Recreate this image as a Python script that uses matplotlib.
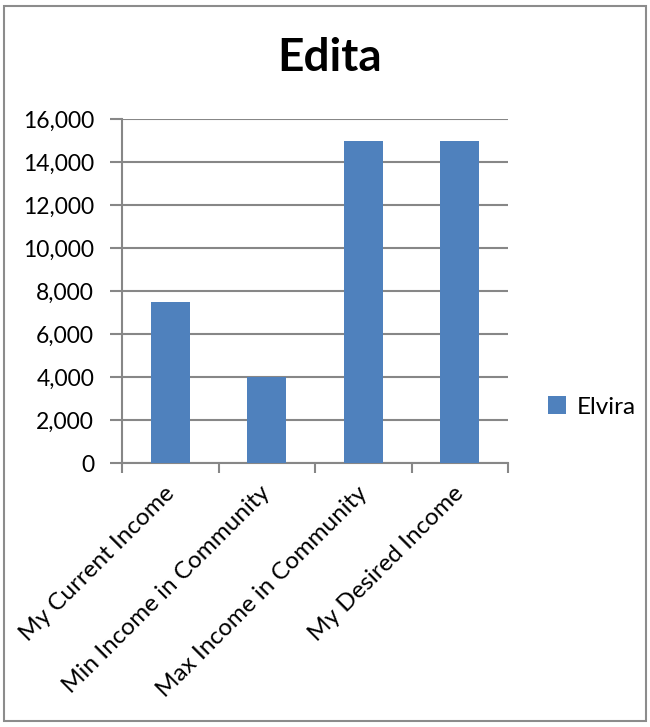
import matplotlib
matplotlib.use("Agg")
import matplotlib.pyplot as plt
from matplotlib.patches import Rectangle
from matplotlib.transforms import ScaledTranslation
from matplotlib.ticker import FuncFormatter, MultipleLocator, FixedLocator

categories = ["My Current Income", "Min Income in Community",
              "Max Income in Community", "My Desired Income"]
values = [7500, 4000, 15000, 15000]
series_name = "Elvira"
title = "Edita"

plt.rcParams['font.family'] = ['Lato', 'DejaVu Sans']

W, H = 650, 727
fig = plt.figure(figsize=(W / 100, H / 100), dpi=100)

# outer chart border
fig.patches.append(Rectangle((4 / W, 1 - 721 / H), 642 / W, 715 / H,
                             transform=fig.transFigure, fill=False,
                             edgecolor="#8c8c8c", linewidth=1.5))

ax = fig.add_axes([122 / W, 1 - 463 / H, 386 / W, 344 / H])
grid_c = "#878787"
x = range(len(categories))
bars = ax.bar(x, values, width=0.4, color="#4F81BD", label=series_name, zorder=3)

ax.set_xlim(-0.5, len(categories) - 0.5)
ax.set_ylim(0, 16000)
ax.yaxis.set_major_locator(MultipleLocator(2000))
ax.yaxis.set_major_formatter(FuncFormatter(lambda v, p: f"{int(v):,}"))
ax.grid(axis="y", color=grid_c, linewidth=1.5, zorder=0)

for s in ["top", "right"]:
    ax.spines[s].set_visible(False)
for s in ["left", "bottom"]:
    ax.spines[s].set_color(grid_c)
    ax.spines[s].set_linewidth(1.5)

ax.tick_params(axis="y", direction="out", length=9, width=1.5, color=grid_c,
               labelsize=16.5, pad=11)
# category boundary ticks on x axis
ax.xaxis.set_major_locator(FixedLocator([i - 0.5 for i in range(len(categories) + 1)]))
ax.xaxis.set_major_formatter(FuncFormatter(lambda v, p: ""))
ax.xaxis.set_minor_locator(FixedLocator(list(x)))
ax.set_xticklabels(categories, minor=True, rotation=45, ha="right",
                   rotation_mode="anchor", fontsize=17.5)
ax.tick_params(axis="x", which="major", direction="out", length=7, width=1.5,
               color=grid_c)
ax.tick_params(axis="x", which="minor", length=0, pad=14)
shift = ScaledTranslation(-7 / 100, 0, fig.dpi_scale_trans)
for lbl in ax.get_xticklabels(minor=True):
    lbl.set_transform(lbl.get_transform() + shift)

fig.text(330 / W, 1 - 58 / H, title, ha="center", va="center",
         fontsize=33, fontweight="bold")

leg = ax.legend(loc="center left", bbox_to_anchor=(526 / W, 1 - 407 / H),
                bbox_transform=fig.transFigure, frameon=False, fontsize=17.5,
                handlelength=0.75, handleheight=0.75, handletextpad=0.45)

fig.savefig("out.png", dpi=100)
